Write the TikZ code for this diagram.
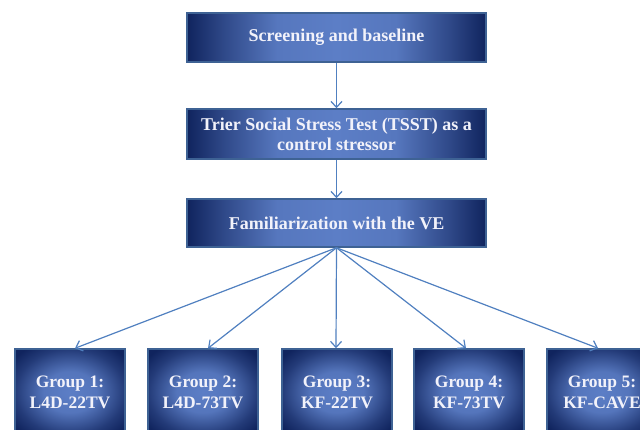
\documentclass[tikz,border=0pt]{standalone}
\usepackage{fontspec}
\setmainfont{Liberation Serif}
\usetikzlibrary{arrows.meta,calc}
\definecolor{navy}{RGB}{16,36,94}
\definecolor{lightb}{RGB}{92,126,198}
\definecolor{edgeb}{RGB}{62,98,148}
\definecolor{arrowb}{RGB}{80,128,192}
\definecolor{txt}{RGB}{242,242,250}
\pgfdeclarehorizontalshading{wideshade}{100bp}{color(0bp)=(navy); color(25bp)=(navy); color(31bp)=(navy!60!lightb); color(40bp)=(lightb!92!navy); color(50bp)=(lightb); color(60bp)=(lightb!92!navy); color(69bp)=(navy!60!lightb); color(75bp)=(navy); color(100bp)=(navy)}
\pgfdeclareradialshading{boxradial}{\pgfpoint{0bp}{0bp}}{color(0bp)=(lightb); color(12bp)=(lightb!90!navy); color(25bp)=(navy!75!lightb); color(32bp)=(navy); color(50bp)=(navy)}
\tikzset{
  widebox/.style={draw=edgeb, line width=1.5pt, shading=wideshade, minimum width=299pt, text=txt, align=center, font=\bfseries\fontsize{18pt}{20pt}\selectfont, inner sep=0pt},
  groupbox/.style={draw=edgeb, line width=1.5pt, shading=boxradial, minimum width=110pt, minimum height=86pt, text=txt, align=center, font=\bfseries\fontsize{17.5pt}{21pt}\selectfont, inner sep=0pt},
  conn/.style={draw=arrowb, line width=1.2pt, -{Straight Barb[length=6pt,width=11pt]}}
}
\begin{document}
\begin{tikzpicture}[x=1pt,y=-1pt]
\useasboundingbox (0,0) rectangle (640,429);
\clip (0,0) rectangle (640,429);
\fill[white] (0,0) rectangle (640,429);
\node[widebox, minimum height=49pt] (s) at (336.5,37.5) {Screening and baseline};
\node[widebox, minimum height=50pt] (t) at (336.5,134) {Trier Social Stress Test (TSST) as a\\control stressor};
\node[widebox, minimum height=48pt] (f) at (336.5,223) {Familiarization with the VE};
\node[groupbox] (g1) at (70,392) {Group 1:\\L4D-22TV};
\node[groupbox] (g2) at (203,392) {Group 2:\\L4D-73TV};
\node[groupbox] (g3) at (337,392) {Group 3:\\KF-22TV};
\node[groupbox] (g4) at (469,392) {Group 4:\\KF-73TV};
\node[groupbox] (g5) at (602,392) {Group 5:\\KF-CAVE};
\draw[conn] (s.south) -- (t.north);
\draw[conn] (t.south) -- (f.north);
\draw[conn] (f.south) -- ([xshift=5pt]g1.north);
\draw[conn] (f.south) -- ([xshift=5pt]g2.north);
\draw[conn] (f.south) -- ([xshift=-1pt]g3.north);
\draw[conn] (f.south) -- ([xshift=-3pt]g4.north);
\draw[conn] (f.south) -- ([xshift=-4pt]g5.north);
\end{tikzpicture}
\end{document}
